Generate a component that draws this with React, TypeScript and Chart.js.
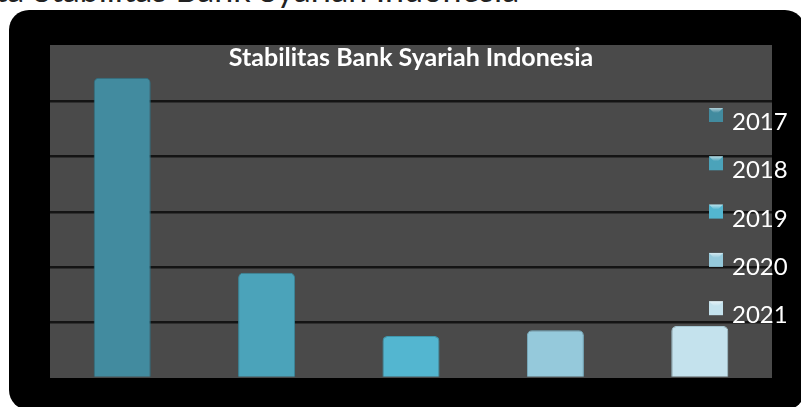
import React, { useEffect, useRef } from "react";
import { Chart, registerables } from "chart.js";

Chart.register(...registerables);

const years = ["2017", "2018", "2019", "2020", "2021"];
const values = [5.42, 1.9, 0.76, 0.86, 0.94];
const barColors = ["#428b9f", "#4ba3ba", "#53b6d0", "#95c9db", "#c4e2ed"];
const barEdges = ["#2f6f80", "#3a8699", "#3f97ad", "#7aafc2", "#a6c8d4"];
const chartTitle = "Stabilitas Bank Syariah Indonesia";
const pageHeading = "Data Stabilitas Bank Syariah Indonesia";

const W = 801;
const H = 407;

const backgroundPlugin = {
  id: "slideBackground",
  beforeDraw(chart: any) {
    const { ctx, chartArea } = chart;
    ctx.save();
    ctx.fillStyle = "#000000";
    ctx.beginPath();
    (ctx as any).roundRect(9, 10, 796, 400, 20);
    ctx.fill();
    const top = chart.titleBlock ? chart.titleBlock.top : 45;
    ctx.fillStyle = "#4a4a4a";
    ctx.fillRect(chartArea.left, top, chartArea.right - chartArea.left, chartArea.bottom - top);
    ctx.restore();
  },
};

const legendPlugin = {
  id: "overlayLegend",
  afterDraw(chart: any) {
    const { ctx } = chart;
    const labels: string[] = chart.data.labels;
    const colors: string[] = chart.data.datasets[0].backgroundColor;
    ctx.save();
    labels.forEach((lab, i) => {
      const y0 = 108 + i * 48.3;
      const x0 = 709;
      const s = 14;
      const g = ctx.createLinearGradient(0, y0, 0, y0 + s);
      g.addColorStop(0, "#ffffff");
      g.addColorStop(0.35, colors[i]);
      g.addColorStop(1, colors[i]);
      ctx.fillStyle = colors[i];
      ctx.fillRect(x0, y0, s, s);
      ctx.fillStyle = g;
      ctx.globalAlpha = 0.6;
      ctx.beginPath();
      ctx.moveTo(x0, y0);
      ctx.lineTo(x0 + s, y0);
      ctx.lineTo(x0 + s / 2, y0 + s / 2);
      ctx.closePath();
      ctx.fill();
      ctx.globalAlpha = 1;
      ctx.fillStyle = "#ffffff";
      ctx.font = "24px Lato, 'Open Sans', sans-serif";
      ctx.textBaseline = "alphabetic";
      ctx.textAlign = "left";
      ctx.fillText(lab, 732, y0 + 22);
    });
    ctx.restore();
  },
};

export default function App() {
  const canvasRef = useRef<HTMLCanvasElement | null>(null);

  useEffect(() => {
    if (!canvasRef.current) return;
    const chart = new Chart(canvasRef.current, {
      type: "bar",
      data: {
        labels: years,
        datasets: [
          {
            label: chartTitle,
            data: values,
            backgroundColor: barColors,
            borderColor: barEdges,
            borderWidth: 1,
            borderRadius: { topLeft: 5, topRight: 5, bottomLeft: 0, bottomRight: 0 },
            borderSkipped: "bottom",
            categoryPercentage: 1,
            barPercentage: 0.395,
          },
        ],
      },
      options: {
        responsive: false,
        animation: false,
        devicePixelRatio: 1,
        layout: { padding: { left: 50, right: 29, top: 45, bottom: 29 } },
        plugins: {
          legend: { display: false },
          tooltip: { enabled: false },
          title: {
            display: true,
            text: chartTitle,
            color: "#ffffff",
            font: { family: "Lato, 'Open Sans', sans-serif", size: 25, weight: "bold", lineHeight: 1 },
            padding: { top: 0, bottom: 6 },
          },
        },
        scales: {
          x: { display: false },
          y: {
            min: 0,
            max: 5.45,
            ticks: { display: false, stepSize: 1 },
            border: { display: false },
            grid: {
              drawTicks: false,
              lineWidth: 2.5,
              color: (c: any) => {
                const v = c.tick ? c.tick.value : 0;
                return v >= 1 && v <= 5 && Number.isInteger(v) ? "#141414" : "rgba(0,0,0,0)";
              },
            },
          },
        },
      },
      plugins: [backgroundPlugin, legendPlugin],
    });
    return () => chart.destroy();
  }, []);

  return (
    <div
      style={{
        position: "fixed",
        left: 0,
        top: 0,
        width: W,
        height: H,
        overflow: "hidden",
        background: "#ffffff",
      }}
    >
      <div
        style={{
          position: "absolute",
          left: -47,
          top: -32,
          fontFamily: "Lato, 'Open Sans', sans-serif",
          fontSize: 34,
          color: "#222222",
          whiteSpace: "nowrap",
        }}
      >
        {pageHeading}
      </div>
      <canvas
        ref={canvasRef}
        width={W}
        height={H}
        style={{ position: "absolute", left: 0, top: 0, width: W, height: H }}
      />
    </div>
  );
}
